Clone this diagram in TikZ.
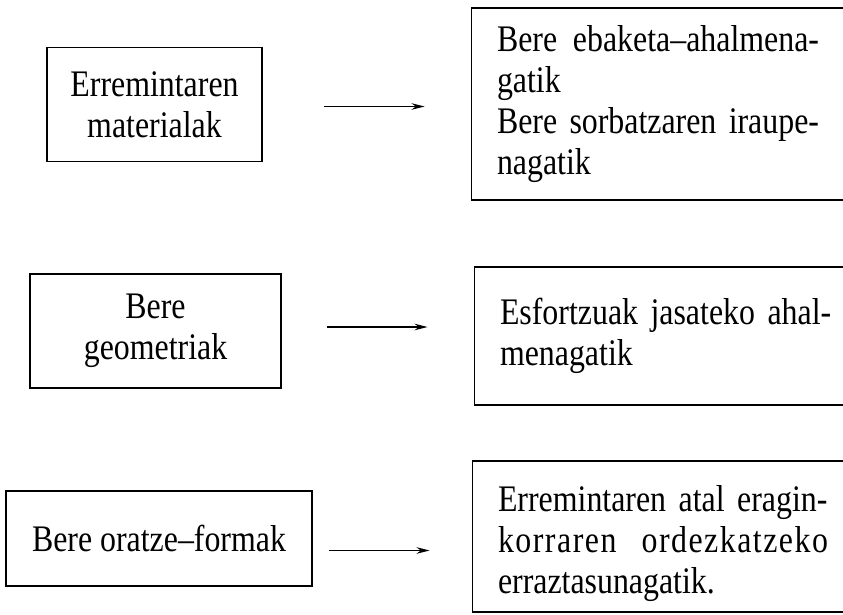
\documentclass[tikz,border=0pt]{standalone}
\usepackage{fontspec}
\setmainfont{Liberation Serif}[FakeStretch=0.85]
\usetikzlibrary{arrows.meta, positioning}

\begin{document}
\begin{tikzpicture}[
    x=1pt, y=-1pt,
    box/.style={draw, line width=1.9pt, inner sep=0pt,
                font=\fontsize{37.5}{41}\selectfont},
    cause/.style={box, align=center},
    effect/.style={box, align=left, text width=334pt, minimum width=385pt},
    >={Stealth[length=13pt, width=6.5pt]}
  ]
    \useasboundingbox (0,0) rectangle (843,614);

    % left column
    \node[cause, minimum width=215pt, minimum height=114pt] (mat) at (154.5,104.5) {Erremintaren\\materialak};
    \node[cause, minimum width=251pt, minimum height=114pt] (geo) at (155.5,331) {Bere\\geometriak};
    \node[cause, minimum width=306pt, minimum height=95pt] (form) at (159,538.5) {Bere oratze--formak};

    % right column
    \node[effect, minimum height=192pt] (ebak) at (664,104)
      {\makebox[322pt][s]{Bere\hfill ebaketa--ahalmena-}\\gatik\\
       \makebox[322pt][s]{Bere\hfill sorbatzaren\hfill iraupe-}\\nagatik};
    \node[effect, minimum height=138pt] (esf) at (667,336)
      {\mbox{Esfortzuak jasateko ahal-}\\menagatik};
    \node[effect, minimum height=151pt] (ordez) at (665,536.5)
      {\rule{0pt}{40pt}\mbox{Erremintaren atal eragin-}\\
       \makebox[330pt][s]{\addfontfeatures{LetterSpace=4}korraren\hfill ordezkatzeko}\\erraztasunagatik.};

    \draw[->, line width=1.7pt, shorten <=61pt, shorten >=46pt] ([yshift=-2pt]mat.east) -- ([yshift=-2pt]mat.east -| ebak.west);
    \draw[->, line width=1.7pt, shorten <=45pt, shorten >=46pt] ([yshift=4pt]geo.east) -- ([yshift=4pt]geo.east -| esf.west);
    \draw[->, line width=1.7pt, shorten <=16pt, shorten >=42pt] ([yshift=-12pt]form.east) -- ([yshift=-12pt]form.east -| ordez.west);
  \end{tikzpicture}
\end{document}
